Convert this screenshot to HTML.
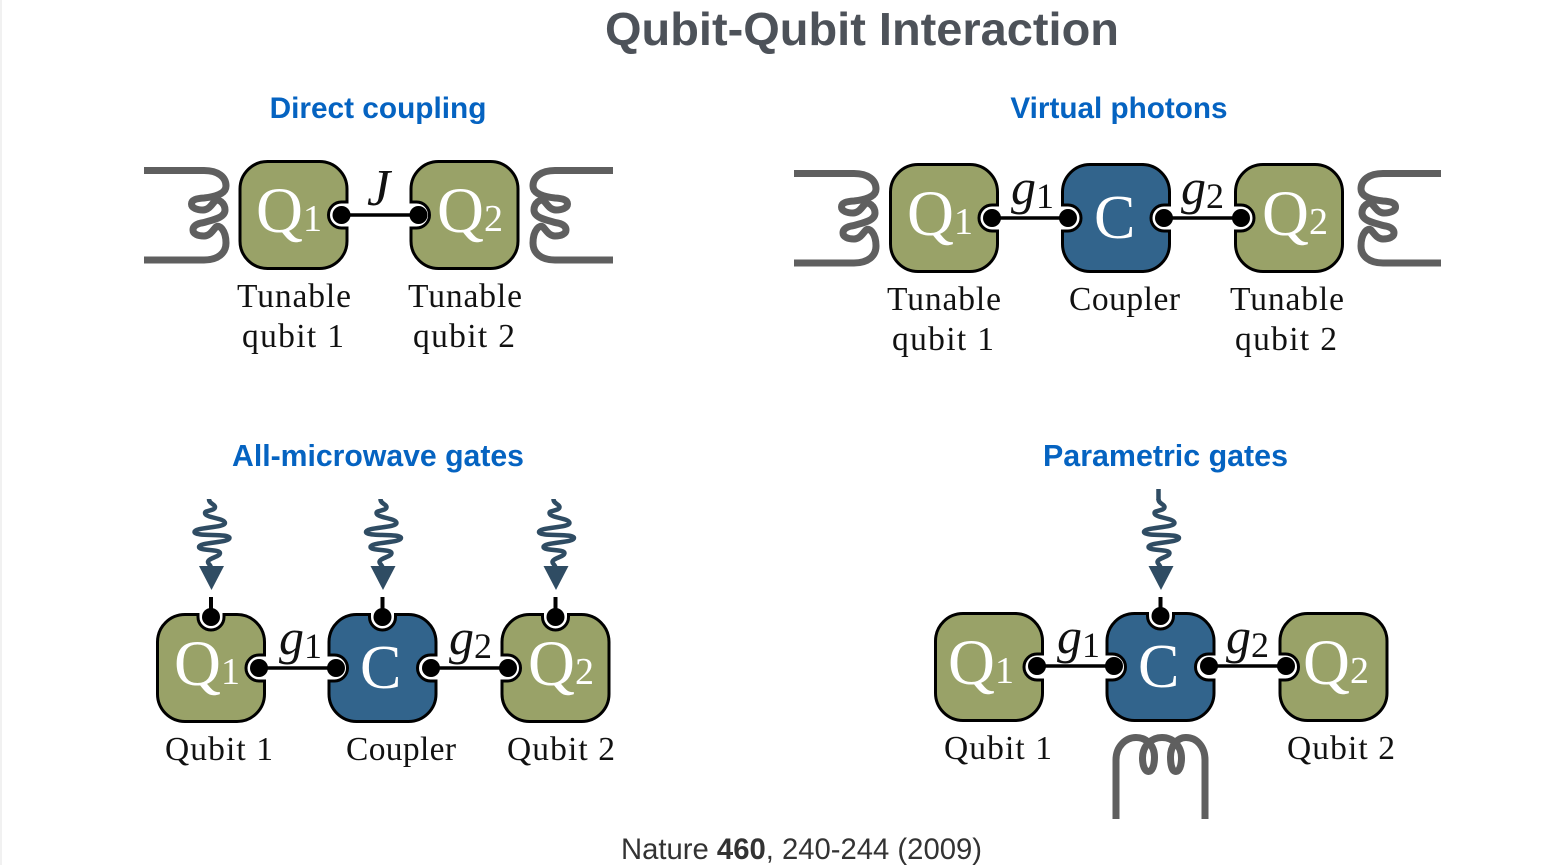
<!DOCTYPE html>
<html><head><meta charset="utf-8"><title>Qubit-Qubit Interaction</title>
<style>
html,body{margin:0;padding:0;background:#fff;width:1554px;height:865px;overflow:hidden}
svg{display:block}
.t{font-family:"Liberation Sans",sans-serif;font-weight:bold;fill:#4d5259;font-size:46px}
.h{font-family:"Liberation Sans",sans-serif;font-weight:bold;fill:#0563c1;font-size:30.200px;text-anchor:middle}
.f{font-family:"Liberation Sans",sans-serif;fill:#333;font-size:30px}
.l{font-family:"Liberation Serif",serif;fill:#111;font-size:33.500px}
.q{font-family:"Liberation Serif",serif;fill:#fff;font-size:65px}
.c{font-family:"Liberation Serif",serif;fill:#fff;font-size:62px}
.s{font-family:"Liberation Serif",serif;fill:#fff;font-size:38px}
.g{font-family:"Liberation Serif",serif;font-style:italic;fill:#111;font-size:50px}
.gs{font-family:"Liberation Serif",serif;fill:#111;font-size:36px}
.coil{fill:none;stroke:#5f5f5f;stroke-width:7}
.w{fill:none;stroke:#2f4c63;stroke-width:4.500}
.box{stroke:#000;stroke-width:3}
.lk{stroke:#000;stroke-width:3.500}
</style></head><body>
<svg width="1554" height="865" viewBox="0 0 1554 865" xmlns="http://www.w3.org/2000/svg">
<defs>
<path id="coilL" class="coil" d="M144 170.500H204C218 170.500 226 177 226 186C226 194 214 197 204 198C196 198.500 191.500 200 191.500 204C191.500 208 197 210 203 210C209 210 212 204 215 201C218 198 225 203 225 210C225 218 212 220 204 222.500C197 223.500 193 226 193 230C193 234 198 236 204 236C210 236 213 230 216 227C219 224 226 230 226 243C226 253 218 260 204 260H144"/>
<path id="coilR" class="coil" d="M146 170.500H204C218 170.500 226 177 226 186C226 194 214 197 204 198C196 198.500 191.500 200 191.500 204C191.500 208 197 210 203 210C209 210 212 204 215 201C218 198 225 203 225 210C225 218 212 220 204 222.500C197 223.500 193 226 193 230C193 234 198 236 204 236C210 236 213 230 216 227C219 224 226 230 226 243C226 253 218 260 204 260H146"/>
<path id="wig" class="w" d="M209 499C209 504 215 504 215 507C215 511 205 510 205 513C205 518 225 518 225 523C225 528 194.500 527 194.500 532C194.500 537 229.500 533 229.500 538C229.500 543 199 542 199 547C199 551 220 549 220 553C220 557 208 558 208 562C208 564 211 565 211 568"/>
<g id="arr"><use href="#wig"/><path d="M199 566H224L211.500 590Z" fill="#2f4c63"/><path d="M211 597V612" stroke="#000" stroke-width="4"/></g>
<path id="pR" class="box" d="M-26-53.500H26A27.500 27.500 0 0 1 53.500-26V-13H48A13 13 0 0 0 48 13H53.500V26A27.500 27.500 0 0 1 26 53.500H-26A27.500 27.500 0 0 1-53.500 26V-26A27.500 27.500 0 0 1-26-53.500Z"/>
<path id="pL" class="box" d="M-26-53.500H26A27.500 27.500 0 0 1 53.500-26V26A27.500 27.500 0 0 1 26 53.500H-26A27.500 27.500 0 0 1-53.500 26V13H-48A13 13 0 0 0-48-13H-53.500V-26A27.500 27.500 0 0 1-26-53.500Z"/>
<path id="pLR" class="box" d="M-26-53.500H26A27.500 27.500 0 0 1 53.500-26V-13H48A13 13 0 0 0 48 13H53.500V26A27.500 27.500 0 0 1 26 53.500H-26A27.500 27.500 0 0 1-53.500 26V13H-48A13 13 0 0 0-48-13H-53.500V-26A27.500 27.500 0 0 1-26-53.500Z"/>
<path id="pRT" class="box" d="M-26-53.500H-13V-51A13 13 0 0 0 13-51V-53.500H26A27.500 27.500 0 0 1 53.500-26V-13H48A13 13 0 0 0 48 13H53.500V26A27.500 27.500 0 0 1 26 53.500H-26A27.500 27.500 0 0 1-53.500 26V-26A27.500 27.500 0 0 1-26-53.500Z"/>
<path id="pLT" class="box" d="M-26-53.500H-13V-51A13 13 0 0 0 13-51V-53.500H26A27.500 27.500 0 0 1 53.500-26V26A27.500 27.500 0 0 1 26 53.500H-26A27.500 27.500 0 0 1-53.500 26V13H-48A13 13 0 0 0-48-13H-53.500V-26A27.500 27.500 0 0 1-26-53.500Z"/>
<path id="pLRT" class="box" d="M-26-53.500H-13V-51A13 13 0 0 0 13-51V-53.500H26A27.500 27.500 0 0 1 53.500-26V-13H48A13 13 0 0 0 48 13H53.500V26A27.500 27.500 0 0 1 26 53.500H-26A27.500 27.500 0 0 1-53.500 26V13H-48A13 13 0 0 0-48-13H-53.500V-26A27.500 27.500 0 0 1-26-53.500Z"/>
</defs>
<rect x="0" y="0" width="2" height="865" fill="#f1f1f1"/>

<text class="t" x="605" y="45" textLength="514" lengthAdjust="spacingAndGlyphs">Qubit-Qubit Interaction</text>
<text class="h" x="378" y="118" style="font-size:29.800px">Direct coupling</text>
<text class="h" x="1119" y="118" style="font-size:29.700px">Virtual photons</text>
<text class="h" x="378" y="466">All-microwave gates</text>
<text class="h" x="1165.500" y="466" style="font-size:30.400px">Parametric gates</text>
<text class="f" x="621" y="859" textLength="361" lengthAdjust="spacingAndGlyphs">Nature <tspan font-weight="bold">460</tspan>, 240-244 (2009)</text>

<!-- Direct coupling -->
<use href="#coilL"/>
<use href="#coilR" transform="translate(759 0) scale(-1 1)"/>
<use href="#pR" transform="translate(293.500 215)" fill="#99a268"/>
<use href="#pL" transform="translate(464.500 215)" fill="#99a268"/>
<path class="lk" d="M342 215H419"/>
<circle cx="341.500" cy="215" r="9"/><circle cx="418.500" cy="215" r="9"/>
<text class="q" x="256" y="232">Q</text><text class="s" x="303" y="231">1</text>
<text class="q" x="437" y="232">Q</text><text class="s" x="484" y="231">2</text>
<text class="g" x="367" y="205" style="font-size:52px">J</text>
<text class="l" x="237" y="307" textLength="114">Tunable</text>
<text class="l" x="242" y="347" textLength="102">qubit 1</text>
<text class="l" x="408" y="307" textLength="114">Tunable</text>
<text class="l" x="413" y="347" textLength="102">qubit 2</text>

<!-- Virtual photons -->
<use href="#coilL" transform="translate(650 3)"/>
<use href="#coilR" transform="translate(1587 3) scale(-1 1)"/>
<use href="#pR" transform="translate(944 218)" fill="#99a268"/>
<use href="#pLR" transform="translate(1116 218)" fill="#32648c"/>
<use href="#pL" transform="translate(1289 218)" fill="#99a268"/>
<path class="lk" d="M992 218H1068M1164 218H1241"/>
<circle cx="992" cy="218" r="9"/><circle cx="1068" cy="218" r="9"/><circle cx="1164" cy="218" r="9"/><circle cx="1241" cy="218" r="9"/>
<text class="q" x="907" y="235">Q</text><text class="s" x="954" y="234">1</text>
<text class="c" x="1094" y="238">C</text>
<text class="q" x="1262" y="235">Q</text><text class="s" x="1309" y="234">2</text>
<text class="g" x="1011" y="204">g</text><text class="gs" x="1036" y="208">1</text>
<text class="g" x="1181" y="204">g</text><text class="gs" x="1206" y="208">2</text>
<text class="l" x="887" y="310" textLength="114">Tunable</text>
<text class="l" x="892" y="350" textLength="102">qubit 1</text>
<text class="l" x="1069" y="310" textLength="111">Coupler</text>
<text class="l" x="1230" y="310" textLength="114">Tunable</text>
<text class="l" x="1235" y="350" textLength="102">qubit 2</text>

<!-- All-microwave gates -->
<use href="#arr"/>
<use href="#arr" transform="translate(171.500 0)"/>
<use href="#arr" transform="translate(344.500 0)"/>
<use href="#pRT" transform="translate(211 668)" fill="#99a268"/>
<use href="#pLRT" transform="translate(382.500 668)" fill="#32648c"/>
<use href="#pLT" transform="translate(555.500 668)" fill="#99a268"/>
<path class="lk" d="M259 668H336M431 668H508"/>
<circle cx="259" cy="668" r="9"/><circle cx="336" cy="668" r="9"/><circle cx="431" cy="668" r="9"/><circle cx="508" cy="668" r="9"/>
<circle cx="211" cy="617" r="9"/><circle cx="382.500" cy="617" r="9"/><circle cx="555.500" cy="617" r="9"/>
<text class="q" x="174" y="685">Q</text><text class="s" x="221" y="684">1</text>
<text class="c" x="360" y="688">C</text>
<text class="q" x="528" y="685">Q</text><text class="s" x="575" y="684">2</text>
<text class="g" x="279" y="654">g</text><text class="gs" x="304" y="658">1</text>
<text class="g" x="449" y="654">g</text><text class="gs" x="474" y="658">2</text>
<text class="l" x="165" y="760" textLength="108">Qubit 1</text>
<text class="l" x="346" y="760" textLength="110">Coupler</text>
<text class="l" x="507" y="760" textLength="108">Qubit 2</text>

<!-- Parametric gates -->
<path d="M1158.500 489V500" class="w"/>
<use href="#arr" transform="translate(949.500 0)"/>
<use href="#pR" transform="translate(989 667)" fill="#99a268"/>
<use href="#pLRT" transform="translate(1160.500 667)" fill="#32648c"/>
<use href="#pL" transform="translate(1333.500 667)" fill="#99a268"/>
<path class="lk" d="M1037 666H1114M1209 666H1286"/>
<circle cx="1037" cy="666" r="9"/><circle cx="1114" cy="666" r="9"/><circle cx="1209" cy="666" r="9"/><circle cx="1286" cy="666" r="9"/>
<circle cx="1160.500" cy="616" r="9"/>
<text class="q" x="948" y="684">Q</text><text class="s" x="995" y="683">1</text>
<text class="c" x="1138" y="687">C</text>
<text class="q" x="1303" y="684">Q</text><text class="s" x="1350" y="683">2</text>
<text class="g" x="1057" y="653">g</text><text class="gs" x="1082" y="657">1</text>
<text class="g" x="1226" y="653">g</text><text class="gs" x="1251" y="657">2</text>
<text class="l" x="944" y="759" textLength="108">Qubit 1</text>
<text class="l" x="1287" y="759" textLength="108">Qubit 2</text>
<path class="coil" d="M1116 819V760C1116 746 1126 737.500 1136 737.500C1146 737.500 1154.500 745 1154.500 757C1154.500 766 1152 771.500 1148.500 771.500C1145 771.500 1142.500 766 1142.500 758C1142.500 745 1152 737.500 1162 737.500C1173 737.500 1181.500 746 1181.500 758C1181.500 766 1179 771.500 1176 771.500C1172.500 771.500 1170.500 766 1170.500 757C1170.500 746 1177 737.500 1186 737.500C1197 737.500 1205 747 1205 760V819"/>
</svg>
</body></html>
